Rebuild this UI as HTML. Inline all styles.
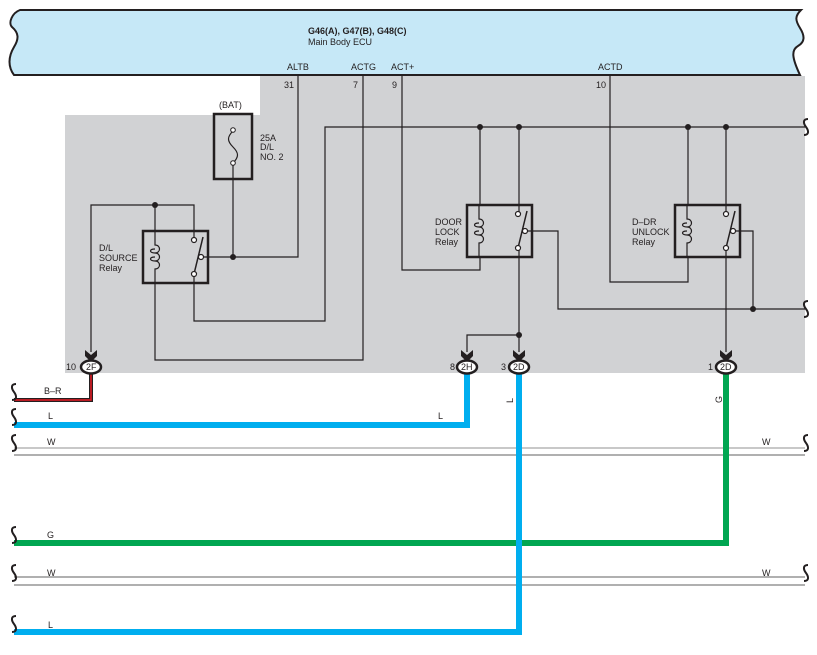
<!DOCTYPE html>
<html><head><meta charset="utf-8"><style>
body{margin:0;background:#fff}
svg{display:block;font-family:"Liberation Sans",sans-serif}
text{font-size:9px;fill:#231f20}
</style></head><body>
<svg width="817" height="655" viewBox="0 0 817 655" xmlns="http://www.w3.org/2000/svg">
<defs>
<g id="relay">
<rect x="0" y="0" width="65" height="52" fill="none" stroke="#231f20" stroke-width="2.5"/>
<path d="M12,-1 V14 c6,0 6,8 0,8 c-6,0 -6,-4 0,-4 M12,22 c6,0 6,8 0,8 c-6,0 -6,-4 0,-4 M12,30 c6,0 6,8 0,8 V53" fill="none" stroke="#231f20" stroke-width="1.2"/>
<line x1="51" y1="43" x2="60" y2="6" stroke="#231f20" stroke-width="1.5"/>
<circle cx="51" cy="9" r="2.5" fill="#fff" stroke="#231f20" stroke-width="1.2"/>
<circle cx="51" cy="43" r="2.5" fill="#fff" stroke="#231f20" stroke-width="1.2"/>
<circle cx="58" cy="26" r="2.5" fill="#fff" stroke="#231f20" stroke-width="1.2"/>
</g>
<g id="conn">
<path d="M-6,-17 L0,-12 L6,-17 L6,-11 L0,-5 L-6,-11 Z" fill="#231f20"/>
<ellipse cx="0" cy="0" rx="10" ry="6.5" fill="#fff" stroke="#231f20" stroke-width="2.5"/>
</g>
<path id="wv" d="M0,-8 c-5,0 -5,4 -2,8 c3,4 3,8 -2,8" fill="none" stroke="#231f20" stroke-width="2"/>
</defs>

<path d="M20,10 H801 c-6,6 -6,10 -1,18 c5,8 5,14 -2,18 c-7,4 -6,12 2,29 H14 c-6,-8 -6,-18 0,-28 c5,-8 5,-14 -2,-20 c-4,-4 0,-14 8,-17 Z" fill="#c6e8f7" stroke="#231f20" stroke-width="2"/>
<text x="308" y="34" style="font-weight:bold">G46(A), G47(B), G48(C)</text>
<text x="308" y="45">Main Body ECU</text>
<text x="287" y="70">ALTB</text><text x="351" y="70">ACTG</text><text x="391" y="70">ACT+</text><text x="598" y="70">ACTD</text>

<path d="M260,76 H805 V373 H65 V115 H260 Z" fill="#d1d2d4"/>
<text x="284" y="88">31</text><text x="353" y="88">7</text><text x="392" y="88">9</text><text x="596" y="88">10</text>

<g fill="none" stroke="#231f20" stroke-width="1.2">
<polyline points="298,76 298,257 201,257"/>
<polyline points="363,76 363,360 155,360 155,283"/>
<polyline points="402,76 402,270 480,270 480,257"/>
<polyline points="610,76 610,282 688,282 688,257"/>
<polyline points="805,127 325,127 325,321 194,321 194,274"/>
<polyline points="91,352 91,205 194,205 194,240"/>
<line x1="155" y1="205" x2="155" y2="231"/>
<line x1="233" y1="163" x2="233" y2="257"/>
<line x1="480" y1="127" x2="480" y2="205"/>
<line x1="519" y1="127" x2="519" y2="214"/>
<line x1="519" y1="248" x2="519" y2="352"/>
<polyline points="519,335 467,335 467,352"/>
<polyline points="526,231 558,231 558,309 805,309"/>
<polyline points="733,231 753,231 753,309"/>
<line x1="688" y1="127" x2="688" y2="205"/>
<line x1="726" y1="127" x2="726" y2="214"/>
<line x1="726" y1="248" x2="726" y2="352"/>
</g>
<g fill="#231f20">
<circle cx="155" cy="205" r="3"/><circle cx="233" cy="257" r="3"/>
<circle cx="480" cy="127" r="3"/><circle cx="519" cy="127" r="3"/>
<circle cx="688" cy="127" r="3"/><circle cx="726" cy="127" r="3"/>
<circle cx="519" cy="335" r="3"/><circle cx="753" cy="309" r="3"/>
</g>
<use href="#wv" x="808" y="127"/><use href="#wv" x="808" y="309"/>

<text x="219" y="108">(BAT)</text>
<rect x="214" y="114" width="38" height="65" fill="none" stroke="#231f20" stroke-width="2.5"/>
<path d="M233,131 c-6,6 -6,10 0,16 c6,6 6,10 0,16" fill="none" stroke="#231f20" stroke-width="1.2"/>
<circle cx="233" cy="130" r="2.3" fill="#fff" stroke="#231f20"/><circle cx="233" cy="163" r="2.3" fill="#fff" stroke="#231f20"/>
<text x="260" y="141">25A</text><text x="260" y="150">D/L</text><text x="260" y="160">NO. 2</text>

<use href="#relay" x="143" y="231"/>
<text x="99" y="251">D/L</text><text x="99" y="261">SOURCE</text><text x="99" y="271">Relay</text>
<use href="#relay" x="467" y="205"/>
<text x="435" y="225">DOOR</text><text x="435" y="235">LOCK</text><text x="435" y="245">Relay</text>
<use href="#relay" x="675" y="205"/>
<text x="632" y="225">D–DR</text><text x="632" y="235">UNLOCK</text><text x="632" y="245">Relay</text>

<polyline points="91,374 91,400 14,400" fill="none" stroke="#231f20" stroke-width="4"/>
<polyline points="91,374 91,400 14,400" fill="none" stroke="#ed1c24" stroke-width="1.5"/>
<polyline points="467,374 467,425 14,425" fill="none" stroke="#00aeef" stroke-width="6"/>
<line x1="14" y1="448" x2="805" y2="448" stroke="#b5b5b5" stroke-width="1.5"/>
<line x1="14" y1="455" x2="805" y2="455" stroke="#808080" stroke-width="1.2"/>
<polyline points="726,374 726,543 14,543" fill="none" stroke="#00a651" stroke-width="6"/>
<line x1="14" y1="577" x2="805" y2="577" stroke="#808080" stroke-width="1.2"/>
<line x1="14" y1="585" x2="805" y2="585" stroke="#808080" stroke-width="1.2"/>
<polyline points="519,374 519,632 14,632" fill="none" stroke="#00aeef" stroke-width="6"/>

<use href="#conn" x="91" y="367"/><text x="86" y="370">2F</text><text x="66" y="370">10</text>
<use href="#conn" x="467" y="367"/><text x="461" y="370">2H</text><text x="450" y="370">8</text>
<use href="#conn" x="519" y="367"/><text x="513" y="370">2D</text><text x="501" y="370">3</text>
<use href="#conn" x="726" y="367"/><text x="720" y="370">2D</text><text x="708" y="370">1</text>

<text x="44" y="394">B–R</text>
<text x="48" y="419">L</text><text x="438" y="419">L</text>
<text x="47" y="445">W</text><text x="762" y="445">W</text>
<text x="47" y="538">G</text>
<text x="47" y="576">W</text><text x="762" y="576">W</text>
<text x="48" y="628">L</text>
<text transform="translate(513,403) rotate(-90)">L</text>
<text transform="translate(722,403) rotate(-90)">G</text>

<use href="#wv" x="16" y="392"/><use href="#wv" x="16" y="417"/>
<use href="#wv" x="16" y="443"/><use href="#wv" x="16" y="535"/>
<use href="#wv" x="16" y="573"/><use href="#wv" x="16" y="624"/>
<use href="#wv" x="808" y="443"/><use href="#wv" x="808" y="573"/>
</svg>
</body></html>
